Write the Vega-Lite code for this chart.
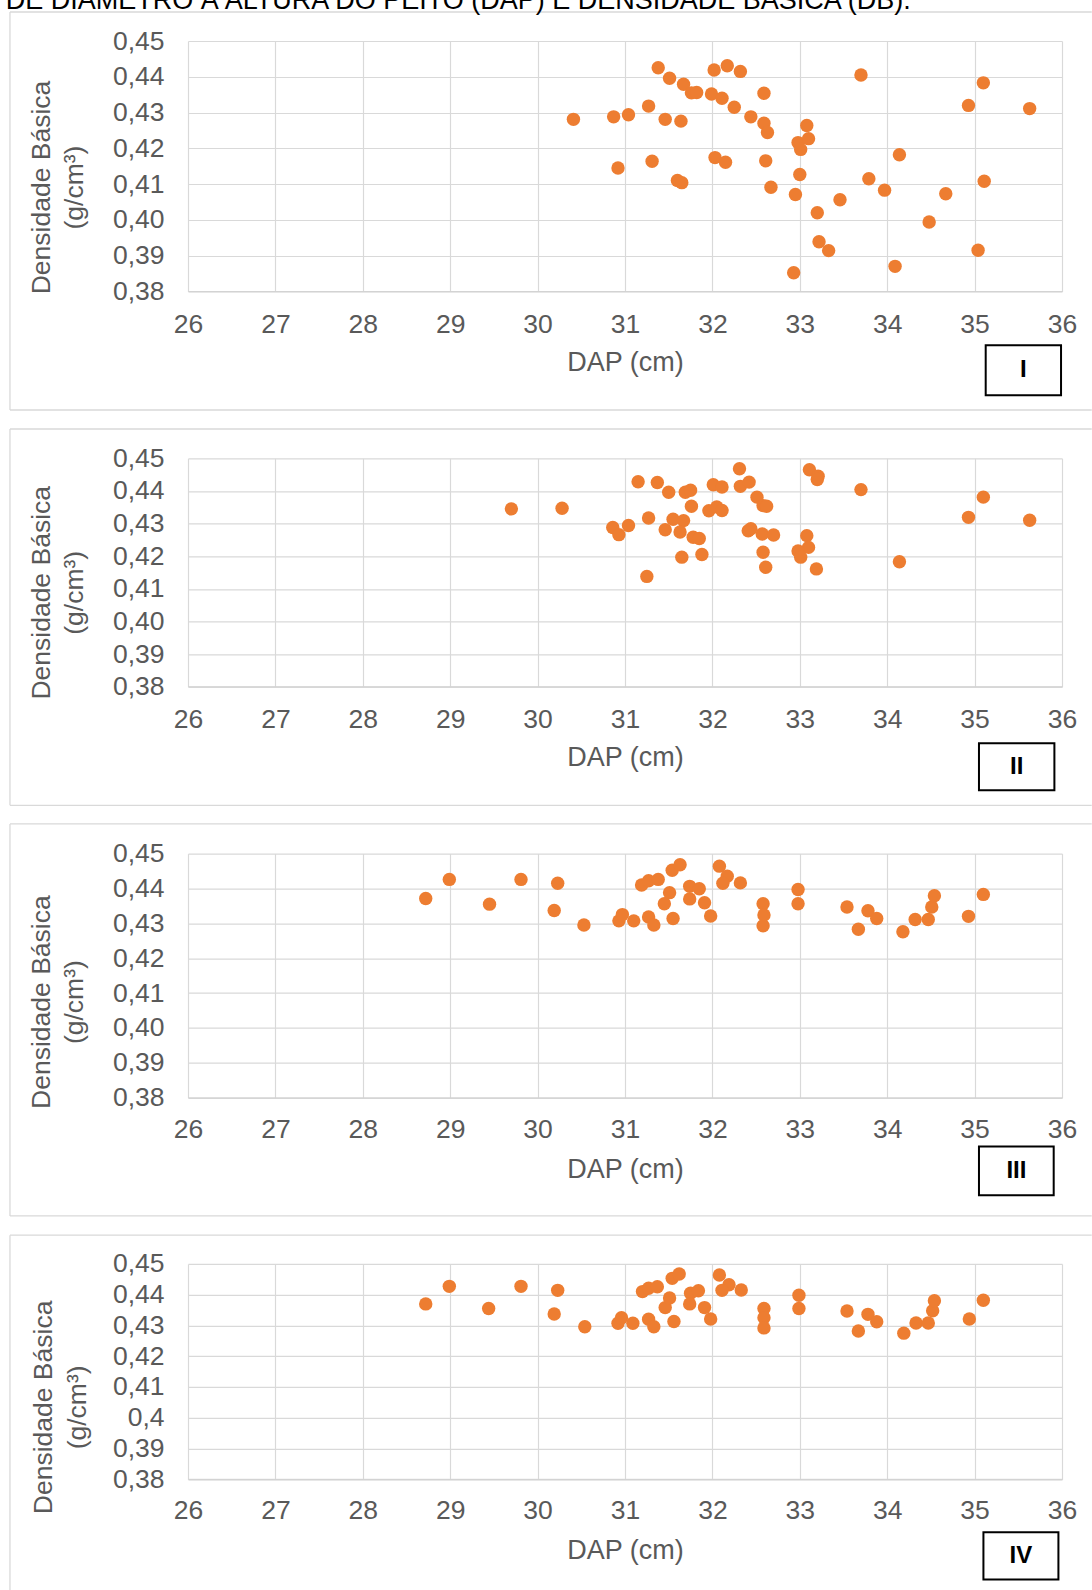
{
"$schema":"https://vega.github.io/schema/vega-lite/v6.json",
"background":"white",
"padding":{"left":5,"top":-13,"right":0,"bottom":0},
"autosize":{"type":"pad"},
"bounds":"flush",
"spacing":166.3,
"config":{"view":{"stroke":null},"axis":{"labelFont":"Liberation Sans","titleFont":"Liberation Sans","labelFontSize":26.5,"titleFontSize":26.5,"labelColor":"#595959","titleColor":"#595959","titleFontWeight":"normal","gridColor":"#d9d9d9","gridWidth":1.2,"ticks":false,"tickSize":0}},
"datasets":{
"p1":[{"DAP":30.41,"DB":0.4281},{"DAP":30.87,"DB":0.4288},{"DAP":31.04,"DB":0.4294},{"DAP":31.27,"DB":0.4318},{"DAP":31.46,"DB":0.4281},{"DAP":31.64,"DB":0.4276},{"DAP":30.92,"DB":0.4145},{"DAP":31.31,"DB":0.4164},{"DAP":31.60,"DB":0.4110},{"DAP":31.65,"DB":0.4104},{"DAP":31.38,"DB":0.4425},{"DAP":31.51,"DB":0.4396},{"DAP":31.67,"DB":0.4379},{"DAP":31.76,"DB":0.4355},{"DAP":31.82,"DB":0.4356},{"DAP":32.02,"DB":0.4419},{"DAP":32.17,"DB":0.4431},{"DAP":32.32,"DB":0.4415},{"DAP":31.99,"DB":0.4352},{"DAP":32.11,"DB":0.4340},{"DAP":32.25,"DB":0.4315},{"DAP":32.44,"DB":0.4288},{"DAP":32.59,"DB":0.4354},{"DAP":32.59,"DB":0.4270},{"DAP":32.63,"DB":0.4244},{"DAP":32.03,"DB":0.4174},{"DAP":32.15,"DB":0.4161},{"DAP":32.61,"DB":0.4165},{"DAP":32.67,"DB":0.4091},{"DAP":32.95,"DB":0.4071},{"DAP":33.00,"DB":0.4127},{"DAP":32.98,"DB":0.4216},{"DAP":33.01,"DB":0.4197},{"DAP":33.08,"DB":0.4264},{"DAP":33.10,"DB":0.4227},{"DAP":33.20,"DB":0.4020},{"DAP":33.22,"DB":0.3939},{"DAP":33.33,"DB":0.3914},{"DAP":32.93,"DB":0.3852},{"DAP":33.46,"DB":0.4056},{"DAP":33.70,"DB":0.4405},{"DAP":33.79,"DB":0.4115},{"DAP":33.97,"DB":0.4083},{"DAP":34.14,"DB":0.4182},{"DAP":34.09,"DB":0.3870},{"DAP":34.48,"DB":0.3994},{"DAP":34.67,"DB":0.4073},{"DAP":34.93,"DB":0.4320},{"DAP":35.10,"DB":0.4383},{"DAP":35.11,"DB":0.4108},{"DAP":35.04,"DB":0.3915},{"DAP":35.63,"DB":0.4311}],
"p2":[{"DAP":29.70,"DB":0.4345},{"DAP":30.28,"DB":0.4347},{"DAP":30.86,"DB":0.4288},{"DAP":30.93,"DB":0.4266},{"DAP":31.04,"DB":0.4294},{"DAP":31.27,"DB":0.4317},{"DAP":31.15,"DB":0.4428},{"DAP":31.37,"DB":0.4426},{"DAP":31.50,"DB":0.4396},{"DAP":31.69,"DB":0.4396},{"DAP":31.75,"DB":0.4402},{"DAP":31.76,"DB":0.4353},{"DAP":31.46,"DB":0.4281},{"DAP":31.55,"DB":0.4313},{"DAP":31.67,"DB":0.4309},{"DAP":31.63,"DB":0.4274},{"DAP":31.78,"DB":0.4258},{"DAP":31.85,"DB":0.4254},{"DAP":31.65,"DB":0.4197},{"DAP":31.88,"DB":0.4205},{"DAP":31.25,"DB":0.4138},{"DAP":31.96,"DB":0.4339},{"DAP":32.05,"DB":0.4351},{"DAP":32.11,"DB":0.4340},{"DAP":32.01,"DB":0.4419},{"DAP":32.11,"DB":0.4412},{"DAP":32.31,"DB":0.4468},{"DAP":32.32,"DB":0.4414},{"DAP":32.42,"DB":0.4427},{"DAP":32.51,"DB":0.4381},{"DAP":32.58,"DB":0.4355},{"DAP":32.62,"DB":0.4353},{"DAP":32.41,"DB":0.4278},{"DAP":32.44,"DB":0.4284},{"DAP":32.57,"DB":0.4268},{"DAP":32.70,"DB":0.4265},{"DAP":32.58,"DB":0.4212},{"DAP":32.61,"DB":0.4166},{"DAP":33.08,"DB":0.4263},{"DAP":33.10,"DB":0.4227},{"DAP":32.98,"DB":0.4216},{"DAP":33.01,"DB":0.4197},{"DAP":33.19,"DB":0.4161},{"DAP":33.11,"DB":0.4465},{"DAP":33.21,"DB":0.4445},{"DAP":33.20,"DB":0.4435},{"DAP":33.70,"DB":0.4404},{"DAP":34.14,"DB":0.4183},{"DAP":34.93,"DB":0.4319},{"DAP":35.10,"DB":0.4381},{"DAP":35.63,"DB":0.4310}],
"p3":[{"DAP":28.72,"DB":0.4371},{"DAP":28.99,"DB":0.4426},{"DAP":29.45,"DB":0.4355},{"DAP":29.81,"DB":0.4426},{"DAP":30.23,"DB":0.4415},{"DAP":30.19,"DB":0.4337},{"DAP":30.53,"DB":0.4295},{"DAP":30.93,"DB":0.4307},{"DAP":30.97,"DB":0.4325},{"DAP":31.10,"DB":0.4307},{"DAP":31.19,"DB":0.4410},{"DAP":31.27,"DB":0.4422},{"DAP":31.38,"DB":0.4426},{"DAP":31.27,"DB":0.4318},{"DAP":31.33,"DB":0.4295},{"DAP":31.45,"DB":0.4356},{"DAP":31.51,"DB":0.4388},{"DAP":31.55,"DB":0.4314},{"DAP":31.54,"DB":0.4452},{"DAP":31.63,"DB":0.4468},{"DAP":31.74,"DB":0.4406},{"DAP":31.85,"DB":0.4399},{"DAP":31.74,"DB":0.4370},{"DAP":31.91,"DB":0.4359},{"DAP":31.98,"DB":0.4321},{"DAP":32.08,"DB":0.4464},{"DAP":32.17,"DB":0.4435},{"DAP":32.12,"DB":0.4415},{"DAP":32.32,"DB":0.4416},{"DAP":32.58,"DB":0.4356},{"DAP":32.59,"DB":0.4324},{"DAP":32.58,"DB":0.4293},{"DAP":32.98,"DB":0.4397},{"DAP":32.98,"DB":0.4356},{"DAP":33.54,"DB":0.4347},{"DAP":33.78,"DB":0.4336},{"DAP":33.88,"DB":0.4314},{"DAP":33.67,"DB":0.4283},{"DAP":34.18,"DB":0.4276},{"DAP":34.32,"DB":0.4311},{"DAP":34.47,"DB":0.4311},{"DAP":34.51,"DB":0.4347},{"DAP":34.54,"DB":0.4379},{"DAP":34.93,"DB":0.4320},{"DAP":35.10,"DB":0.4383}],
"p4":[{"DAP":28.72,"DB":0.4370},{"DAP":28.99,"DB":0.4427},{"DAP":29.44,"DB":0.4355},{"DAP":29.81,"DB":0.4427},{"DAP":30.23,"DB":0.4414},{"DAP":30.19,"DB":0.4337},{"DAP":30.54,"DB":0.4296},{"DAP":30.92,"DB":0.4307},{"DAP":30.96,"DB":0.4325},{"DAP":31.09,"DB":0.4307},{"DAP":31.20,"DB":0.4410},{"DAP":31.27,"DB":0.4421},{"DAP":31.37,"DB":0.4426},{"DAP":31.27,"DB":0.4320},{"DAP":31.33,"DB":0.4296},{"DAP":31.46,"DB":0.4358},{"DAP":31.51,"DB":0.4389},{"DAP":31.56,"DB":0.4313},{"DAP":31.54,"DB":0.4453},{"DAP":31.62,"DB":0.4467},{"DAP":31.75,"DB":0.4405},{"DAP":31.84,"DB":0.4413},{"DAP":31.74,"DB":0.4370},{"DAP":31.91,"DB":0.4358},{"DAP":31.98,"DB":0.4321},{"DAP":32.08,"DB":0.4464},{"DAP":32.19,"DB":0.4432},{"DAP":32.11,"DB":0.4414},{"DAP":32.33,"DB":0.4415},{"DAP":32.59,"DB":0.4355},{"DAP":32.59,"DB":0.4325},{"DAP":32.59,"DB":0.4292},{"DAP":32.99,"DB":0.4398},{"DAP":32.99,"DB":0.4355},{"DAP":33.54,"DB":0.4347},{"DAP":33.78,"DB":0.4336},{"DAP":33.88,"DB":0.4312},{"DAP":33.67,"DB":0.4282},{"DAP":34.19,"DB":0.4275},{"DAP":34.33,"DB":0.4308},{"DAP":34.47,"DB":0.4308},{"DAP":34.52,"DB":0.4348},{"DAP":34.54,"DB":0.4380},{"DAP":34.94,"DB":0.4321},{"DAP":35.10,"DB":0.4382}]
},
"vconcat":[
{"width":874,"height":250.4,"resolve":{"axis":{"x":"independent","y":"independent"}},"layer":[
{"data":{"name":"p1"},"mark":{"type":"circle","size":180,"color":"#ED7D31","opacity":1},"encoding":{
"x":{"field":"DAP","type":"quantitative","scale":{"domain":[26,36],"nice":false,"zero":false},"axis":{"values":[26,27,28,29,30,31,32,33,34,35,36],"format":"d","title":"DAP (cm)","grid":true,"labelFlush":false,"labelOverlap":false,"labelPadding":20,"titlePadding":12,"titleFontSize":27,"domain":true,"domainColor":"#d0d0d0","domainWidth":1.3}},
"y":{"field":"DB","type":"quantitative","scale":{"domain":[0.38,0.45],"nice":false,"zero":false},"axis":{"values":[0.38,0.39,0.4,0.41,0.42,0.43,0.44,0.45],"labelExpr":"replace(format(datum.value,'.2f'),'.',',')","title":["Densidade Básica","(g/cm³)"],"grid":true,"labelOverlap":false,"labelPadding":24,"domain":false,"titleAngle":270,"titleBaseline":"top","titleAlign":"center","titleX":-160,"titleY":146,"titleLineHeight":33}}}},
{"data":{"values":[{}]},"mark":{"type":"rule","color":"#d9d9d9","strokeWidth":1.3,"clip":false},"encoding":{"x":{"datum":23.963,"type":"quantitative","axis":null},"y":{"datum":0.458107,"type":"quantitative","axis":null},"y2":{"datum":0.346846}}},
{"data":{"values":[{}]},"mark":{"type":"rule","color":"#d9d9d9","strokeWidth":1.3,"clip":false},"encoding":{"x":{"datum":23.963,"type":"quantitative","axis":null},"x2":{"datum":36.34},"y":{"datum":0.458107,"type":"quantitative","axis":null}}},
{"data":{"values":[{}]},"mark":{"type":"rule","color":"#d9d9d9","strokeWidth":1.3,"clip":false},"encoding":{"x":{"datum":23.963,"type":"quantitative","axis":null},"x2":{"datum":36.34},"y":{"datum":0.346846,"type":"quantitative","axis":null}}},
{"data":{"values":[{}]},"mark":{"type":"rect","fill":"white","stroke":"black","strokeWidth":2,"clip":false},"encoding":{"x":{"datum":35.127,"type":"quantitative","axis":null},"x2":{"datum":35.989},"y":{"datum":0.364933,"type":"quantitative","axis":null},"y2":{"datum":0.350955}}},
{"data":{"values":[{}]},"mark":{"type":"text","text":"I","font":"Liberation Sans","fontSize":24,"fontWeight":"bold","color":"black","align":"center","baseline":"middle","clip":false},"encoding":{"x":{"datum":35.558,"type":"quantitative","axis":null},"y":{"datum":0.357944,"type":"quantitative","axis":null}}},
{"data":{"values":[{}]},"mark":{"type":"text","text":"DE DIÂMETRO À ALTURA DO PEITO (DAP) E DENSIDADE BÁSICA (DB).","font":"Liberation Sans","fontSize":27,"color":"black","align":"left","baseline":"alphabetic","clip":false},"encoding":{"x":{"datum":23.914,"type":"quantitative","axis":null},"y":{"datum":0.458862,"type":"quantitative","axis":null}}}
]},
{"width":874,"height":228.4,"resolve":{"axis":{"x":"independent","y":"independent"}},"layer":[
{"data":{"name":"p2"},"mark":{"type":"circle","size":180,"color":"#ED7D31","opacity":1},"encoding":{
"x":{"field":"DAP","type":"quantitative","scale":{"domain":[26,36],"nice":false,"zero":false},"axis":{"values":[26,27,28,29,30,31,32,33,34,35,36],"format":"d","title":"DAP (cm)","grid":true,"labelFlush":false,"labelOverlap":false,"labelPadding":19.5,"titlePadding":12,"titleFontSize":27,"domain":true,"domainColor":"#d0d0d0","domainWidth":1.3}},
"y":{"field":"DB","type":"quantitative","scale":{"domain":[0.38,0.45],"nice":false,"zero":false},"axis":{"values":[0.38,0.39,0.4,0.41,0.42,0.43,0.44,0.45],"labelExpr":"replace(format(datum.value,'.2f'),'.',',')","title":["Densidade Básica","(g/cm³)"],"grid":true,"labelOverlap":false,"labelPadding":24,"domain":false,"titleAngle":270,"titleBaseline":"top","titleAlign":"center","titleX":-160,"titleY":134,"titleLineHeight":33}}}},
{"data":{"values":[{}]},"mark":{"type":"rule","color":"#d9d9d9","strokeWidth":1.3,"clip":false},"encoding":{"x":{"datum":23.963,"type":"quantitative","axis":null},"y":{"datum":0.45898,"type":"quantitative","axis":null},"y2":{"datum":0.343651}}},
{"data":{"values":[{}]},"mark":{"type":"rule","color":"#d9d9d9","strokeWidth":1.3,"clip":false},"encoding":{"x":{"datum":23.963,"type":"quantitative","axis":null},"x2":{"datum":36.34},"y":{"datum":0.45898,"type":"quantitative","axis":null}}},
{"data":{"values":[{}]},"mark":{"type":"rule","color":"#d9d9d9","strokeWidth":1.3,"clip":false},"encoding":{"x":{"datum":23.963,"type":"quantitative","axis":null},"x2":{"datum":36.34},"y":{"datum":0.343651,"type":"quantitative","axis":null}}},
{"data":{"values":[{}]},"mark":{"type":"rect","fill":"white","stroke":"black","strokeWidth":2,"clip":false},"encoding":{"x":{"datum":35.05,"type":"quantitative","axis":null},"x2":{"datum":35.913},"y":{"datum":0.362653,"type":"quantitative","axis":null},"y2":{"datum":0.348249}}},
{"data":{"values":[{}]},"mark":{"type":"text","text":"II","font":"Liberation Sans","fontSize":24,"fontWeight":"bold","color":"black","align":"center","baseline":"middle","clip":false},"encoding":{"x":{"datum":35.482,"type":"quantitative","axis":null},"y":{"datum":0.355451,"type":"quantitative","axis":null}}}
]},
{"width":874,"height":244,"resolve":{"axis":{"x":"independent","y":"independent"}},"layer":[
{"data":{"name":"p3"},"mark":{"type":"circle","size":180,"color":"#ED7D31","opacity":1},"encoding":{
"x":{"field":"DAP","type":"quantitative","scale":{"domain":[26,36],"nice":false,"zero":false},"axis":{"values":[26,27,28,29,30,31,32,33,34,35,36],"format":"d","title":"DAP (cm)","grid":true,"labelFlush":false,"labelOverlap":false,"labelPadding":19,"titlePadding":13,"titleFontSize":27,"domain":true,"domainColor":"#d0d0d0","domainWidth":1.3}},
"y":{"field":"DB","type":"quantitative","scale":{"domain":[0.38,0.45],"nice":false,"zero":false},"axis":{"values":[0.38,0.39,0.4,0.41,0.42,0.43,0.44,0.45],"labelExpr":"replace(format(datum.value,'.2f'),'.',',')","title":["Densidade Básica","(g/cm³)"],"grid":true,"labelOverlap":false,"labelPadding":24,"domain":false,"titleAngle":270,"titleBaseline":"top","titleAlign":"center","titleX":-160,"titleY":148,"titleLineHeight":33}}}},
{"data":{"values":[{}]},"mark":{"type":"rule","color":"#d9d9d9","strokeWidth":1.3,"clip":false},"encoding":{"x":{"datum":23.963,"type":"quantitative","axis":null},"y":{"datum":0.458521,"type":"quantitative","axis":null},"y2":{"datum":0.34606}}},
{"data":{"values":[{}]},"mark":{"type":"rule","color":"#d9d9d9","strokeWidth":1.3,"clip":false},"encoding":{"x":{"datum":23.963,"type":"quantitative","axis":null},"x2":{"datum":36.34},"y":{"datum":0.458521,"type":"quantitative","axis":null}}},
{"data":{"values":[{}]},"mark":{"type":"rule","color":"#d9d9d9","strokeWidth":1.3,"clip":false},"encoding":{"x":{"datum":23.963,"type":"quantitative","axis":null},"x2":{"datum":36.34},"y":{"datum":0.34606,"type":"quantitative","axis":null}}},
{"data":{"values":[{}]},"mark":{"type":"rect","fill":"white","stroke":"black","strokeWidth":2,"clip":false},"encoding":{"x":{"datum":35.05,"type":"quantitative","axis":null},"x2":{"datum":35.905},"y":{"datum":0.365941,"type":"quantitative","axis":null},"y2":{"datum":0.35197}}},
{"data":{"values":[{}]},"mark":{"type":"text","text":"III","font":"Liberation Sans","fontSize":24,"fontWeight":"bold","color":"black","align":"center","baseline":"middle","clip":false},"encoding":{"x":{"datum":35.478,"type":"quantitative","axis":null},"y":{"datum":0.35897,"type":"quantitative","axis":null}}}
]},
{"width":874,"height":215.4,"resolve":{"axis":{"x":"independent","y":"independent"}},"layer":[
{"data":{"name":"p4"},"mark":{"type":"circle","size":180,"color":"#ED7D31","opacity":1},"encoding":{
"x":{"field":"DAP","type":"quantitative","scale":{"domain":[26,36],"nice":false,"zero":false},"axis":{"values":[26,27,28,29,30,31,32,33,34,35,36],"format":"d","title":"DAP (cm)","grid":true,"labelFlush":false,"labelOverlap":false,"labelPadding":18.5,"titlePadding":13,"titleFontSize":27,"domain":true,"domainColor":"#d0d0d0","domainWidth":1.3}},
"y":{"field":"DB","type":"quantitative","scale":{"domain":[0.38,0.45],"nice":false,"zero":false},"axis":{"values":[0.38,0.39,0.4,0.41,0.42,0.43,0.44,0.45],"labelExpr":"replace(format(datum.value,'.2~f'),'.',',')","title":["Densidade Básica","(g/cm³)"],"grid":true,"labelOverlap":false,"labelPadding":24,"domain":false,"titleAngle":270,"titleBaseline":"top","titleAlign":"center","titleX":-158,"titleY":143,"titleLineHeight":34}}}},
{"data":{"values":[{}]},"mark":{"type":"rule","color":"#d9d9d9","strokeWidth":1.3,"clip":false},"encoding":{"x":{"datum":23.963,"type":"quantitative","axis":null},"y":{"datum":0.459327,"type":"quantitative","axis":null},"y2":{"datum":0.34334}}},
{"data":{"values":[{}]},"mark":{"type":"rule","color":"#d9d9d9","strokeWidth":1.3,"clip":false},"encoding":{"x":{"datum":23.963,"type":"quantitative","axis":null},"x2":{"datum":36.34},"y":{"datum":0.459327,"type":"quantitative","axis":null}}},
{"data":{"values":[{}]},"mark":{"type":"rect","fill":"white","stroke":"black","strokeWidth":2,"clip":false},"encoding":{"x":{"datum":35.101,"type":"quantitative","axis":null},"x2":{"datum":35.959},"y":{"datum":0.362775,"type":"quantitative","axis":null},"y2":{"datum":0.347404}}},
{"data":{"values":[{}]},"mark":{"type":"text","text":"IV","font":"Liberation Sans","fontSize":24,"fontWeight":"bold","color":"black","align":"center","baseline":"middle","clip":false},"encoding":{"x":{"datum":35.53,"type":"quantitative","axis":null},"y":{"datum":0.355106,"type":"quantitative","axis":null}}}
]}
]
}
